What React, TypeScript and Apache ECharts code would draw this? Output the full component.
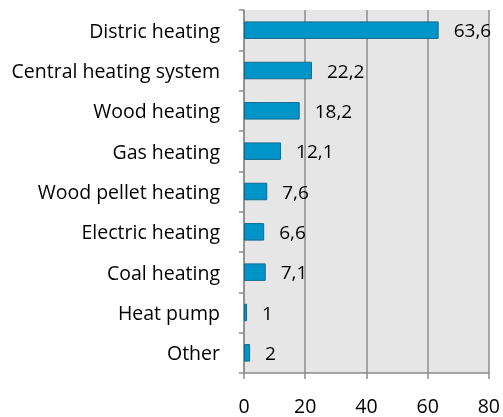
import React, { useEffect, useRef } from "react";
import * as echarts from "echarts";

const categories = [
  "Distric heating",
  "Central heating system",
  "Wood heating",
  "Gas heating",
  "Wood pellet heating",
  "Electric heating",
  "Coal heating",
  "Heat pump",
  "Other",
];
const values = [63.6, 22.2, 18.2, 12.1, 7.6, 6.6, 7.1, 1, 2];
const xTicks = [0, 20, 40, 60, 80];

export default function App() {
  const ref = useRef<HTMLDivElement>(null);
  useEffect(() => {
    const chart = echarts.init(ref.current!, null, { renderer: "svg" });
    const font = "'Open Sans', 'Noto Sans', sans-serif";
    chart.setOption({
      animation: false,
      grid: {
        left: 244,
        right: 13,
        top: 10,
        bottom: 44,
        show: true,
        backgroundColor: "#e6e6e6",
        borderWidth: 0,
      },
      xAxis: {
        type: "value",
        min: xTicks[0],
        max: xTicks[xTicks.length - 1],
        interval: 20,
        axisLine: { show: true, lineStyle: { color: "#8c8c8c", width: 1.5 } },
        axisTick: { show: true, length: 6, lineStyle: { color: "#8c8c8c", width: 1.5 } },
        splitLine: { show: true, lineStyle: { color: "#8c8c8c", width: 1.5 } },
        axisLabel: { color: "#000", fontSize: 19.5, fontFamily: font, margin: 22 },
      },
      yAxis: {
        type: "category",
        inverse: true,
        data: categories,
        axisLine: { show: true, lineStyle: { color: "#8c8c8c", width: 1.5 } },
        axisTick: { show: true, length: 5, lineStyle: { color: "#8c8c8c", width: 1.5 } },
        axisLabel: { color: "#000", fontSize: 19.5, fontFamily: font, margin: 24 },
      },
      series: [
        {
          type: "bar",
          data: values,
          barWidth: 17.5,
          itemStyle: { color: "#0094c8", borderColor: "#136a8c", borderWidth: 1 },
          label: {
            show: true,
            position: "right",
            distance: 15,
            color: "#000",
            fontSize: 19,
            fontFamily: font,
            formatter: (p: any) => String(p.value).replace(".", ","),
          },
        },
      ],
    });
    return () => chart.dispose();
  }, []);
  return (
    <div
      ref={ref}
      style={{ position: "fixed", left: 0, top: 0, width: 503, height: 417 }}
    />
  );
}
